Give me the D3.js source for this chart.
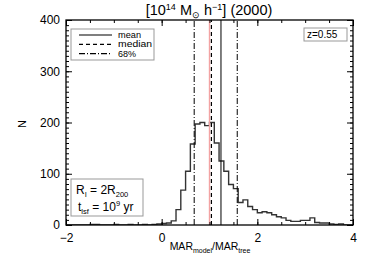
<!DOCTYPE html>
<html>
<head>
<meta charset="utf-8">
<title>MAR ratio histogram</title>
<script src="https://d3js.org/d3.v7.min.js"></script>
<style>
  body { margin:0; background:#fff; }
  svg { font-family:"Liberation Sans", Arial, sans-serif; }
  .ax path { stroke:#000; stroke-width:1.3px; }
  .ax line { stroke:#000; stroke-width:1px; }
  .ax text { font-size:12px; fill:#000; }
  .box { fill:#fff; stroke:#999; stroke-width:1px; }
</style>
</head>
<body>
<svg width="374" height="267"></svg>
<script>
// histogram of MAR_model / MAR_tree, bins of 0.1 starting at -2
var binStart = -2, binWidth = 0.1;
var counts = [0,0,0,0, 0,1,1,0,0,0,1,0,0,1,0,0,1,0,1,2,
              3,4,8,30,68,105,158,197,200,194,200,160,125,105,79,71,44,49,36,30,
              24,26,24,20,16,14,9,7,7,9,9,14,5,4,4,2,1,2,0,0];
// vertical reference lines
var lineMean = [1.24];
var lineMedian = [1.04];
var line68 = [0.68, 1.58];
var lineUnity = [1.0];

var xTicks = [-2, 0, 2, 4];
var yTicks = [0, 100, 200, 300, 400];

var svg = d3.select("svg");
var x = d3.scaleLinear().domain([-2, 4]).range([66, 353]);
var y = d3.scaleLinear().domain([0, 400]).range([225, 20]);

// histogram outline (step)
var pts = counts.map(function(c, i){ return [binStart + i*binWidth, c]; });
pts.push([binStart + counts.length*binWidth, counts[counts.length-1]]);
var step = d3.line().x(function(d){return x(d[0]);}).y(function(d){return y(d[1]);}).curve(d3.curveStepAfter);
svg.append("clipPath").attr("id","clip").append("rect")
  .attr("x",66).attr("y",20).attr("width",287).attr("height",205);
svg.append("path").attr("d", step(pts)).attr("clip-path","url(#clip)")
  .style("fill","none").style("stroke","#333").style("stroke-width",1.4);

function vlines(vals, color, dash, w){
  svg.selectAll(null).data(vals).enter().append("line")
    .attr("x1", function(d){return x(d);}).attr("x2", function(d){return x(d);})
    .attr("y1", y(0)).attr("y2", y(400))
    .style("stroke", color).style("stroke-width", w)
    .style("stroke-dasharray", dash);
}
vlines(lineUnity, "#f3a3a3", null, 1.4);
vlines(line68, "#000", "6,2,1,2", 1);
vlines(lineMedian, "#000", "4,3", 1.2);
vlines(lineMean, "#000", null, 1);

// axes
var xMinor = d3.range(-2, 4.01, 0.5);
var yMinor = d3.range(0, 401, 10);
svg.append("g").attr("class","ax").attr("transform","translate(0,"+y(0)+")")
  .call(d3.axisBottom(x).tickValues(xMinor).tickSize(-3).tickFormat(""));
svg.append("g").attr("class","ax").attr("transform","translate(0,"+y(0)+")")
  .call(d3.axisBottom(x).tickValues(xTicks).tickSize(-6).tickPadding(8)
    .tickFormat(function(d){ return d < 0 ? "\u2212" + (-d) : d; }));
svg.append("g").attr("class","ax").attr("transform","translate(0,"+y(400)+")")
  .call(d3.axisTop(x).tickValues(xMinor).tickSize(-3).tickFormat(""));
svg.append("g").attr("class","ax").attr("transform","translate(0,"+y(400)+")")
  .call(d3.axisTop(x).tickValues(xTicks).tickSize(-6).tickFormat(""));
svg.append("g").attr("class","ax").attr("transform","translate("+x(-2)+",0)")
  .call(d3.axisLeft(y).tickValues(yMinor).tickSize(-3).tickFormat(""));
svg.append("g").attr("class","ax").attr("transform","translate("+x(-2)+",0)")
  .call(d3.axisLeft(y).tickValues(yTicks).tickSize(-6).tickPadding(6));
svg.append("g").attr("class","ax").attr("transform","translate("+x(4)+",0)")
  .call(d3.axisRight(y).tickValues(yMinor).tickSize(-3).tickFormat(""));
svg.append("g").attr("class","ax").attr("transform","translate("+x(4)+",0)")
  .call(d3.axisRight(y).tickValues(yTicks).tickSize(-6).tickFormat(""));
svg.selectAll(".ax .domain").attr("d", null);
svg.append("rect").attr("x",x(-2)).attr("y",y(400)).attr("width",x(4)-x(-2)).attr("height",y(0)-y(400))
  .style("fill","none").style("stroke","#000").style("stroke-width",1.3);

// title
var t = svg.append("text").attr("x",209).attr("y",15).attr("text-anchor","middle").style("font-size","14.5px");
t.append("tspan").text("[10");
t.append("tspan").attr("dy",-5).style("font-size","9px").text("14");
t.append("tspan").attr("dy",5).text(" M");
t.append("tspan").attr("dy",3).style("font-size","9px").text("\u2299");
t.append("tspan").attr("dy",-3).text(" h");
t.append("tspan").attr("dy",-5).style("font-size","9px").text("\u22121");
t.append("tspan").attr("dy",5).text("] (2000)");

// axis titles
svg.append("text").attr("transform","translate(26,124) rotate(-90)").attr("text-anchor","middle")
  .style("font-size","11px").text("N");
var xl = svg.append("text").attr("x",210).attr("y",250).attr("text-anchor","middle").style("font-size","10.5px");
xl.append("tspan").text("MAR");
xl.append("tspan").attr("dy",3).style("font-size","7px").text("model");
xl.append("tspan").attr("dy",-3).text("/MAR");
xl.append("tspan").attr("dy",3).style("font-size","7px").text("tree");

// legend
svg.append("rect").attr("class","box").attr("x",71).attr("y",29).attr("width",83).attr("height",31);
var leg = [["mean", null, 23], ["median", "4,3", 34], ["68%", "6,2,1,2", 18]];
leg.forEach(function(l, i){
  var yy = 35 + i*9.3;
  svg.append("line").attr("x1",79).attr("x2",112).attr("y1",yy).attr("y2",yy)
    .style("stroke","#000").style("stroke-width",1.2).style("stroke-dasharray", l[1]);
  svg.append("text").attr("x",118).attr("y",yy+3).style("font-size","8.2px")
    .attr("textLength", l[2]).attr("lengthAdjust","spacingAndGlyphs").text(l[0]);
});

// redshift box
svg.append("rect").attr("class","box").attr("x",304).attr("y",28).attr("width",43).attr("height",13);
svg.append("text").attr("x",307).attr("y",38).style("font-size","10px").text("z=0.55");

// parameter box
svg.append("rect").attr("class","box").attr("x",71).attr("y",179).attr("width",72).attr("height",37);
var r = svg.append("text").attr("x",76).attr("y",194).style("font-size","12px");
r.append("tspan").text("R");
r.append("tspan").attr("dy",3).style("font-size","7.5px").text("I");
r.append("tspan").attr("dy",-3).text(" = 2R");
r.append("tspan").attr("dy",3).style("font-size","7.5px").text("200");
var tl = svg.append("text").attr("x",78).attr("y",211).style("font-size","12px");
tl.append("tspan").text("t");
tl.append("tspan").attr("dy",3).style("font-size","7.5px").text("lsf");
tl.append("tspan").attr("dy",-3).text(" = 10");
tl.append("tspan").attr("dy",-5).style("font-size","7.5px").text("9");
tl.append("tspan").attr("dy",5).text(" yr");
</script>
</body>
</html>
